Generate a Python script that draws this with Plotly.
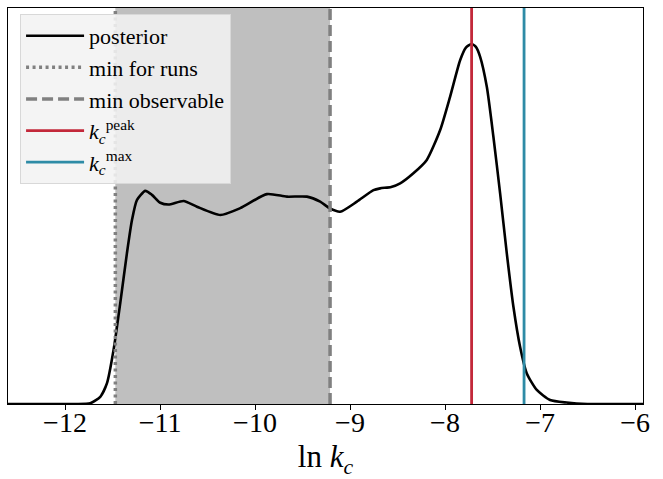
import plotly.graph_objects as go

# Posterior density of ln k_c (normalised to peak = 1)
ln_kc = [-12.6, -11.9, -11.734, -11.629, -11.558, -11.489, -11.418, -11.348, -11.295,
         -11.242, -11.155, -11.085, -10.997, -10.910, -10.752, -10.611, -10.366, -10.156,
         -9.875, -9.664, -9.454, -9.314, -9.216, -9.104, -8.928, -8.753, -8.683, -8.567,
         -8.472, -8.333, -8.192, -8.051, -7.946, -7.841, -7.78, -7.722, -7.675, -7.631,
         -7.560, -7.491, -7.420, -7.350, -7.280, -7.210, -7.139, -7.034, -6.894, -6.72,
         -6.5, -5.916]
posterior = [0.0, 0.0, 0.002, 0.020, 0.058, 0.150, 0.281, 0.419, 0.511,
             0.567, 0.592, 0.581, 0.559, 0.554, 0.564, 0.548, 0.525, 0.544,
             0.583, 0.576, 0.576, 0.562, 0.544, 0.534, 0.562, 0.594, 0.599, 0.603,
             0.613, 0.641, 0.678, 0.761, 0.854, 0.955, 0.99, 1.0, 0.992, 0.965,
             0.881, 0.743, 0.585, 0.419, 0.270, 0.159, 0.085, 0.039, 0.011, 0.004,
             0.0, 0.0]

min_for_runs = -11.47
min_observable = -9.21
kc_peak = -7.72
kc_max = -7.168

x_range = [-12.6, -5.916]
y_top = 1.1
tick_vals = [-12, -11, -10, -9, -8, -7, -6]

GREY = "#808080"
RED = "#c3283a"
TEAL = "#2e8ba6"
FONT = "'Liberation Serif', 'Times New Roman', serif"

fig = go.Figure()

fig.add_shape(type="rect", xref="x", yref="paper", x0=min_for_runs, x1=min_observable,
              y0=0, y1=1, fillcolor="#bfbfbf", line=dict(width=0), layer="below")

fig.add_trace(go.Scatter(x=ln_kc, y=posterior, mode="lines", name="posterior",
                         line=dict(color="black", width=2.6, shape="spline", smoothing=0.6)))
fig.add_trace(go.Scatter(x=[min_for_runs, min_for_runs], y=[0, y_top], mode="lines",
                         name="min for runs",
                         line=dict(color=GREY, width=3.5, dash="3px,3.5px")))
fig.add_trace(go.Scatter(x=[min_observable, min_observable], y=[0, y_top], mode="lines",
                         name="min observable",
                         line=dict(color=GREY, width=3.5, dash="11px,5px")))
fig.add_trace(go.Scatter(x=[kc_peak, kc_peak], y=[0, y_top], mode="lines",
                         name="<i>k<sub>c</sub></i><sup>peak</sup>",
                         line=dict(color=RED, width=2.8)))
fig.add_trace(go.Scatter(x=[kc_max, kc_max], y=[0, y_top], mode="lines",
                         name="<i>k<sub>c</sub></i><sup>max</sup>",
                         line=dict(color=TEAL, width=2.8)))

fig.update_layout(
    width=663, height=479,
    margin=dict(l=8, r=20, t=8, b=75, autoexpand=False),
    paper_bgcolor="white", plot_bgcolor="white",
    font=dict(family=FONT, color="black"),
    showlegend=True,
    legend=dict(x=0.019, y=0.985, xanchor="left", yanchor="top",
                bgcolor="rgba(242,242,242,0.88)", bordercolor="#d8d8d8", borderwidth=1,
                font=dict(family=FONT, size=22, color="black"),
                itemwidth=58),
    xaxis=dict(range=x_range, tickvals=tick_vals, ticks="outside", ticklen=5,
               tickwidth=1.2, tickcolor="black", showgrid=False, zeroline=False,
               showline=True, linecolor="black", linewidth=1.2, mirror=True,
               automargin=False, ticklabelstandoff=-12,
               tickfont=dict(family=FONT, size=28),
               title=dict(text="ln <i>k<sub>c</sub></i>", font=dict(family=FONT, size=31),
                          standoff=32)),
    yaxis=dict(range=[0, y_top], showticklabels=False, ticks="", showgrid=False,
               zeroline=False, showline=True, linecolor="black", linewidth=1.2,
               mirror=True, automargin=False),
)

fig.write_html("out.html")
